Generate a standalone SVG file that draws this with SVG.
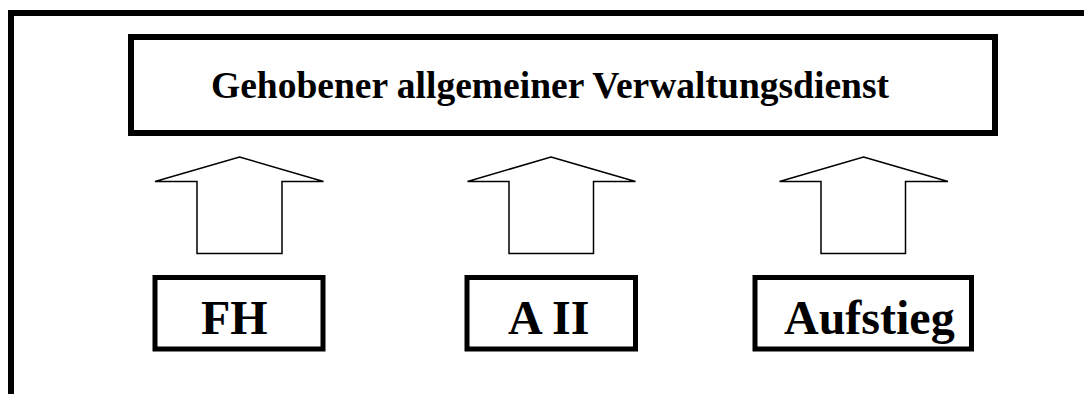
<svg xmlns="http://www.w3.org/2000/svg" width="1084" height="394" viewBox="0 0 1084 394">
<style>
.frame{fill:none;stroke:#000;stroke-width:6}
.box{fill:#fff;stroke:#000}
.arrow{fill:#fff;stroke:#000;stroke-width:1.5;stroke-linejoin:miter}
.t{font-family:"Liberation Serif","Times New Roman",serif;font-weight:bold;fill:#000}
</style>
<rect width="1084" height="394" fill="#fff"/>
<path class="frame" d="M11,394 V13 H1084"/>
<g id="top">
<rect class="box" x="131" y="37" width="864" height="96" stroke-width="6"/>
<text class="t" x="211" y="98" font-size="37.5" textLength="678" lengthAdjust="spacingAndGlyphs">Gehobener allgemeiner Verwaltungsdienst</text>
</g>
<g id="connectors">
<polygon class="arrow" points="239.5,157 323.5,181.5 282,181.5 282,253.5 197,253.5 197,181.5 155,181.5"/>
<polygon class="arrow" points="551,157 635.5,181.5 593.5,181.5 593.5,253.5 509,253.5 509,181.5 467.5,181.5"/>
<polygon class="arrow" points="863.5,157 948,181.5 905.5,181.5 905.5,253.5 821,253.5 821,181.5 779.5,181.5"/>
</g>
<g id="fh">
<rect class="box" x="155" y="277.5" width="168" height="71.5" stroke-width="5"/>
<text class="t" x="201" y="334" font-size="48">FH</text>
</g>
<g id="a2">
<rect class="box" x="467" y="277.5" width="168.5" height="71.5" stroke-width="5"/>
<text class="t" x="508" y="333.5" font-size="48">A II</text>
</g>
<g id="aufstieg">
<rect class="box" x="755" y="277.5" width="216.5" height="71.5" stroke-width="5"/>
<text class="t" x="784" y="333.5" font-size="48">Aufstieg</text>
</g>
</svg>
